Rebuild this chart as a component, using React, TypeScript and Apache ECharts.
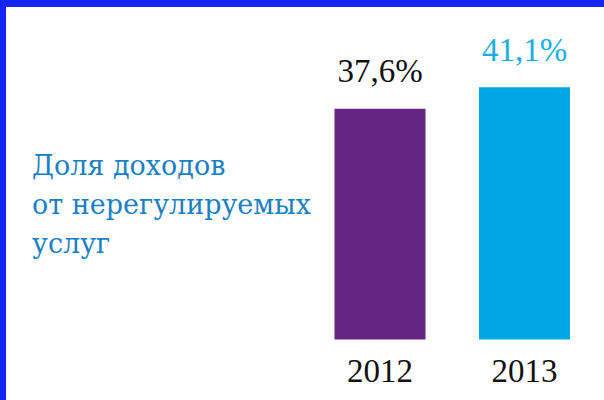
import React, { useEffect, useRef } from "react";
import * as echarts from "echarts";

const categories = ["2012", "2013"];
const values = [37.6, 41.1];
const valueLabels = ["37,6%", "41,1%"];
const barColors = ["#662483", "#00a7e4"];
const labelColors = ["#111111", "#1aaee6"];
const titleLines = ["Доля доходов", "от нерегулируемых", "услуг"];

export default function App() {
  const ref = useRef<HTMLDivElement>(null);
  useEffect(() => {
    if (!ref.current) return;
    const chart = echarts.init(ref.current, undefined, { renderer: "svg" });
    chart.setOption({
      animation: false,
      backgroundColor: "#ffffff",
      grid: { left: 307.75, right: 7.25, top: 32.75, bottom: 60.5 },
      xAxis: {
        type: "category",
        data: categories,
        axisLine: { show: false },
        axisTick: { show: false },
        axisLabel: {
          color: "#111111",
          fontFamily: "Liberation Serif",
          fontSize: 33,
          margin: 15,
        },
      },
      yAxis: {
        type: "value",
        min: 0,
        max: 50,
        show: false,
        splitLine: { show: false },
      },
      series: [
        {
          type: "bar",
          barWidth: 91,
          data: values.map((v, i) => ({
            value: v,
            itemStyle: { color: barColors[i] },
            label: {
              show: true,
              position: "top",
              distance: 21,
              formatter: valueLabels[i],
              color: labelColors[i],
              fontFamily: "Liberation Serif",
              fontSize: 33,
            },
          })),
        },
      ],
      graphic: [
        {
          type: "rect",
          left: 0,
          top: 0,
          shape: { width: 604, height: 7 },
          style: { fill: "#1426f2" },
        },
        {
          type: "rect",
          left: 0,
          top: 0,
          shape: { width: 6, height: 400 },
          style: { fill: "#1426f2" },
        },
        {
          type: "text",
          left: 32,
          top: 146,
          style: {
            text: titleLines.join("\n"),
            fill: "#1b7fc4",
            font: "27px 'DejaVu Serif'",
            lineHeight: 39,
          },
        },
      ],
    });
    return () => chart.dispose();
  }, []);
  return (
    <div
      ref={ref}
      style={{ position: "fixed", left: 0, top: 0, width: 604, height: 400 }}
    />
  );
}
